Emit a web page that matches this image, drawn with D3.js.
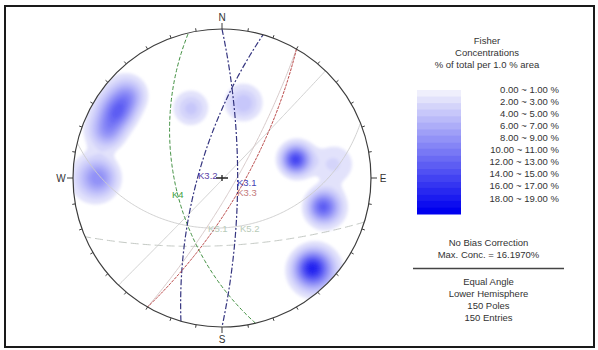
<!DOCTYPE html>
<html>
<head>
<meta charset="utf-8">
<script src="https://cdn.jsdelivr.net/npm/d3@7"></script>
<style>
  body { margin: 0; background: #fff; }
  svg { display: block; font-family: "Liberation Sans", Arial, sans-serif; }
</style>
</head>
<body>
<svg id="chart" width="598" height="350"></svg>
<script>
// pole concentration centres (trend / plunge, degrees), peak % and spread (degrees)
const clusterTrend = [311, 302, 292, 270, 336, 16, 76, 83, 106, 135];
const clusterPlunge = [10, 10.5, 10.5, 10.4, 36, 35, 36, 16, 19.5, 8.7];
const clusterPeak = [6.5, 9.5, 6.5, 8, 3.5, 4, 13.5, 2.2, 11.5, 16.2];
const clusterSpread = [5, 5.2, 5, 5.8, 6.6, 6.8, 5.6, 6.8, 5.3, 5.4];

// planes (dip direction / dip)
const planeNames = ["G1", "G2", "K4", "K3.2", "K3.1", "K3.3"];
const planeDipDir = [134, 120, 257, 286, 90, 120];
const planeDip = [89, 80, 55, 72, 78, 74];

// cones (axis trend / plunge, half angle)
const coneNames = ["K5.1", "K5.2"];
const coneTrend = [356, 357];
const conePlunge = [48.6, 31.7];
const coneAngle = [78.4, 107.1];

// set labels and where they sit (trend / plunge)
const labelNames = ["K3.2", "K3.1", "K3.3", "K4", "K5.1", "K5.2"];
const labelTrend = [267.6, 118, 140, 248.2, 194.5, 161.6];
const labelPlunge = [71.7, 77, 72, 50.2, 49, 48.2];

const legendTitle = ["Fisher", "Concentrations", "% of total per 1.0 % area"];
const legendBins = d3.range(0, 19);
const legendLabels = ["0.00 ~ 1.00 %", "2.00 ~ 3.00 %", "4.00 ~ 5.00 %", "6.00 ~ 7.00 %",
  "8.00 ~ 9.00 %", "10.00 ~ 11.00 %", "12.00 ~ 13.00 %", "14.00 ~ 15.00 %",
  "16.00 ~ 17.00 %", "18.00 ~ 19.00 %"];
const infoTop = ["No Bias Correction", "Max. Conc. = 16.1970%"];
const infoBottom = ["Equal Angle", "Lower Hemisphere", "150 Poles", "150 Entries"];
const compass = ["N", "E", "S", "W"];

const planeStyle = {
  "G1": { stroke: "#cccccc", dash: null, w: 0.9 },
  "G2": { stroke: "#d2c4c4", dash: null, w: 0.9 },
  "K4": { stroke: "#3f8f3f", dash: "4,2", w: 1 },
  "K3.2": { stroke: "#34347f", dash: "6,2,2,2", w: 1.2 },
  "K3.1": { stroke: "#34347f", dash: "6,2,2,2", w: 1.2 },
  "K3.3": { stroke: "#b84444", dash: "3,1", w: 1 },
  "K5.1": { stroke: "#cccccc", dash: null, w: 0.9 },
  "K5.2": { stroke: "#c4c9c4", dash: "8,4", w: 1 }
};
const labelColor = { "K3.2": "#5b3fa8", "K3.1": "#4343b3", "K3.3": "#c47a7a",
  "K4": "#3f9f3f", "K5.1": "#b9cbb9", "K5.2": "#b9cbb9" };

const cx = 222, cy = 178, R = 149;
const svg = d3.select("#chart");

// lower hemisphere, equal angle
const proj = d3.geoStereographic().rotate([0, -90]).scale(R).translate([cx, cy])
  .clipAngle(90).precision(0.1);
const toGeo = (trend, plunge) => [180 - trend, plunge];
const path = d3.geoPath(proj);

const bandColor = d3.scaleLinear().domain([0, 18]).range(["#efeffc", "#0000ee"]);

const defs = svg.append("defs");
defs.append("clipPath").attr("id", "netclip")
  .append("circle").attr("cx", cx).attr("cy", cy).attr("r", R);
defs.append("filter").attr("id", "soft").attr("x", "-5%").attr("y", "-5%")
  .attr("width", "110%").attr("height", "110%")
  .append("feGaussianBlur").attr("stdDeviation", 0.8);

// frame
svg.append("rect").attr("x", 5).attr("y", 6).attr("width", 589).attr("height", 341)
  .attr("fill", "#fff").attr("stroke", "#1a1a1a").attr("stroke-width", 2);

// density grid
const centers = clusterTrend.map((t, i) => toGeo(t, clusterPlunge[i]));
const cell = 2;
const gx0 = cx - R - 6, gy0 = cy - R - 6;
const nx = Math.ceil((2 * R + 12) / cell) + 1;
const grid = new Array(nx * nx).fill(0);
for (let j = 0; j < nx; j++) {
  for (let i = 0; i < nx; i++) {
    const g = proj.invert([gx0 + i * cell, gy0 + j * cell]);
    let v = 0;
    centers.forEach((c, k) => {
      const d = d3.geoDistance(c, g) * 180 / Math.PI / clusterSpread[k];
      v += clusterPeak[k] * Math.exp(-0.5 * d * d);
    });
    grid[j * nx + i] = v;
  }
}
const contours = d3.contours().size([nx, nx]).thresholds(d3.range(1, 19))(grid);

svg.append("g").attr("clip-path", "url(#netclip)")
  .append("g")
  .attr("transform", `translate(${gx0 - cell / 2},${gy0 - cell / 2}) scale(${cell})`)
  .attr("filter", "url(#soft)")
  .selectAll("path").data(contours).join("path")
  .attr("d", d3.geoPath())
  .attr("fill", d => bandColor(d.value));

// great circles and cones
const gcircle = d3.geoCircle().precision(1);
const planeLines = planeNames.map((name, i) => {
  const ring = gcircle.center(toGeo(planeDipDir[i] + 180, 90 - planeDip[i])).radius(90)().coordinates[0];
  return { name, geo: { type: "LineString", coordinates: ring } };
});
const coneLines = coneNames.map((name, i) => {
  const ring = gcircle.center(toGeo(coneTrend[i], conePlunge[i])).radius(coneAngle[i])().coordinates[0];
  return { name, geo: { type: "LineString", coordinates: ring } };
});

svg.append("g").attr("fill", "none")
  .selectAll("path").data(coneLines.concat(planeLines)).join("path")
  .attr("d", d => path(d.geo))
  .attr("stroke", d => planeStyle[d.name].stroke)
  .attr("stroke-width", d => planeStyle[d.name].w)
  .attr("stroke-dasharray", d => planeStyle[d.name].dash);

// net outline and ticks
svg.append("circle").attr("cx", cx).attr("cy", cy).attr("r", R)
  .attr("fill", "none").attr("stroke", "#3c3c3c").attr("stroke-width", 1.2);

const ticks = d3.range(0, 360, 10);
svg.append("g").selectAll("line").data(ticks).join("line")
  .attr("x1", d => cx + R * Math.sin(d * Math.PI / 180))
  .attr("y1", d => cy - R * Math.cos(d * Math.PI / 180))
  .attr("x2", d => cx + (R + (d % 90 === 0 ? 6 : 3)) * Math.sin(d * Math.PI / 180))
  .attr("y2", d => cy - (R + (d % 90 === 0 ? 6 : 3)) * Math.cos(d * Math.PI / 180))
  .attr("stroke", "#3c3c3c").attr("stroke-width", 1);

svg.append("g").selectAll("text").data(compass).join("text")
  .attr("x", (d, i) => cx + (R + 12) * Math.sin(i * Math.PI / 2))
  .attr("y", (d, i) => cy - (R + 12) * Math.cos(i * Math.PI / 2) + 3.5)
  .attr("text-anchor", "middle")
  .attr("font-size", 10).attr("fill", "#333")
  .text(d => d);

// centre cross
svg.append("path")
  .attr("d", `M${cx - 6},${cy}H${cx + 6}M${cx},${cy - 3}V${cy + 3}`)
  .attr("stroke", "#222").attr("stroke-width", 1.3);

// set labels
svg.append("g").selectAll("text").data(labelNames).join("text")
  .attr("x", (d, i) => proj(toGeo(labelTrend[i], labelPlunge[i]))[0])
  .attr("y", (d, i) => proj(toGeo(labelTrend[i], labelPlunge[i]))[1])
  .attr("font-size", 9.5).attr("fill", d => labelColor[d])
  .text(d => d);

// legend
const lx = 487;
svg.append("g").selectAll("text").data(legendTitle).join("text")
  .attr("x", lx).attr("y", (d, i) => 44 + i * 12)
  .attr("text-anchor", "middle").attr("font-size", 9.5).attr("fill", "#333")
  .text(d => d);

const barY = d3.scaleBand().domain(legendBins).range([90, 214]);
svg.append("g").selectAll("rect").data(legendBins).join("rect")
  .attr("x", 417).attr("width", 44)
  .attr("y", d => barY(d)).attr("height", barY.bandwidth() + 0.5)
  .attr("fill", d => bandColor(d));

const labY = d3.scalePoint().domain(legendLabels).range([92.5, 201.5]);
svg.append("g").selectAll("text").data(legendLabels).join("text")
  .attr("x", 559).attr("y", d => labY(d))
  .attr("text-anchor", "end").attr("font-size", 9.5).attr("fill", "#333")
  .text(d => d);

svg.append("g").selectAll("text").data(infoTop).join("text")
  .attr("x", 488.5).attr("y", (d, i) => 246 + i * 11.5)
  .attr("text-anchor", "middle").attr("font-size", 9.5).attr("fill", "#333")
  .text(d => d);

svg.append("line").attr("x1", 413).attr("x2", 564).attr("y1", 268.5).attr("y2", 268.5)
  .attr("stroke", "#444").attr("stroke-width", 1.4);

svg.append("g").selectAll("text").data(infoBottom).join("text")
  .attr("x", 488.5).attr("y", (d, i) => 285 + i * 12)
  .attr("text-anchor", "middle").attr("font-size", 9.5).attr("fill", "#333")
  .text(d => d);
</script>
</body>
</html>
